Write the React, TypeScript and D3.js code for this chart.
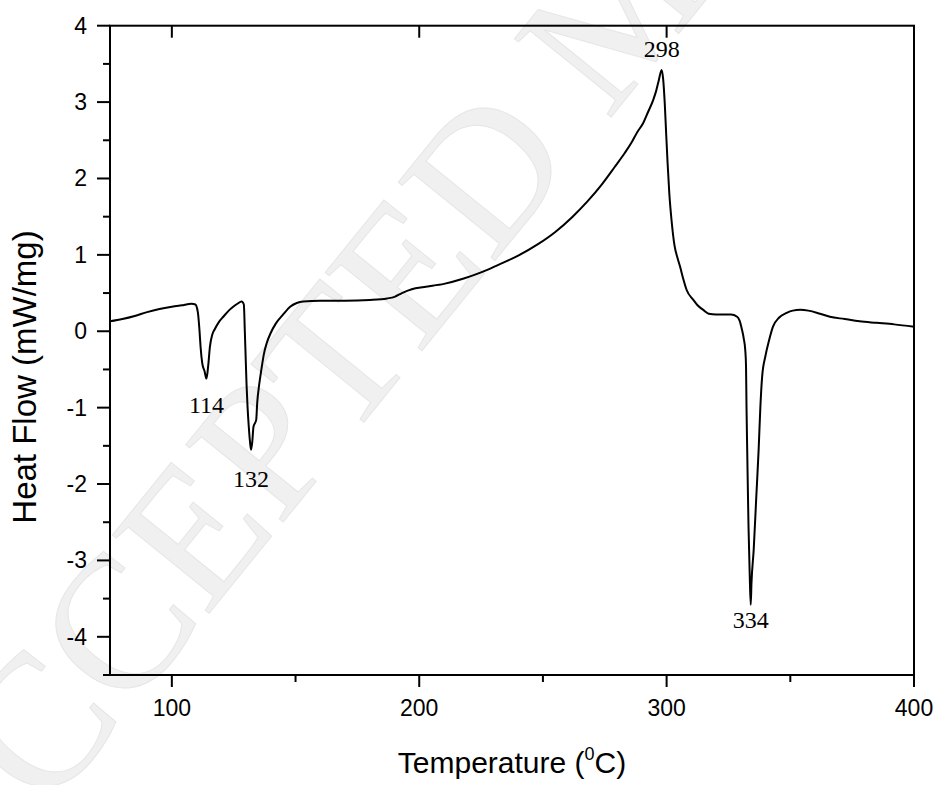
import React from "react";
import * as d3 from "d3";

// DSC trace: temperature (°C) and heat flow (mW/mg)
const temperature = [
  75, 80, 85, 90, 95, 100, 104, 108, 109.5, 110.5, 111.2, 111.6, 112.3, 113.2, 114, 114.7,
  115.4, 116.3, 117.4, 119, 120.8, 123, 124.8, 126.5, 128.2, 129.1, 129.5, 129.8, 130.2,
  130.6, 131.1, 131.6, 132, 132.5, 133, 134.1, 134.5, 135.3, 136.2, 137.2, 138.3, 140, 142,
  145, 147.8, 150.5, 153.1, 160, 170, 180, 187, 190, 193, 197, 202, 210, 218, 225, 232, 240,
  248, 255, 262, 268, 274, 279, 283, 286, 288, 290.6, 292.5, 294.6, 295.8, 296.8, 298, 298.6,
  299.3, 299.8, 300.4, 301.1, 302, 303.2, 304.5, 305.4, 306.6, 308.1, 310.8, 312.5, 314.8,
  317, 320, 326, 328.5, 329.5, 330.4, 331.2, 331.8, 332.1, 332.3, 332.6, 333.1, 333.6, 334,
  334.3, 335.2, 336.2, 337.2, 337.9, 338.6, 339.9, 341.4, 343, 345.5, 348.5, 351, 354, 357.3,
  362, 366, 372, 378, 385, 392, 400,
];
const heatFlow = [
  0.13, 0.16, 0.2, 0.25, 0.29, 0.32, 0.34, 0.36, 0.35, 0.25, 0.0, -0.2, -0.42, -0.52, -0.62,
  -0.45, -0.2, -0.05, 0.03, 0.12, 0.19, 0.27, 0.32, 0.36, 0.39, 0.35, 0.0, -0.3, -0.7, -0.99,
  -1.25, -1.45, -1.55, -1.45, -1.25, -1.16, -0.94, -0.7, -0.5, -0.3, -0.16, -0.02, 0.1, 0.22,
  0.32, 0.37, 0.39, 0.4, 0.4, 0.41, 0.43, 0.45, 0.5, 0.55, 0.58, 0.62, 0.69, 0.77, 0.87, 0.99,
  1.14, 1.3, 1.5, 1.7, 1.93, 2.15, 2.33, 2.48, 2.6, 2.73, 2.87, 3.03, 3.15, 3.28, 3.42, 3.3,
  2.95, 2.6, 2.2, 1.8, 1.45, 1.12, 0.95, 0.85, 0.7, 0.54, 0.41, 0.34, 0.28, 0.23, 0.22, 0.22,
  0.19, 0.14, 0.03, -0.1, -0.25, -0.46, -1.0, -1.6, -2.55, -3.2, -3.58, -3.3, -2.86, -2.2,
  -1.55, -0.99, -0.6, -0.33, -0.12, 0.06, 0.18, 0.24, 0.27, 0.28, 0.27, 0.23, 0.19, 0.16, 0.13,
  0.11, 0.09, 0.06,
];

// Peak temperatures annotated on the trace
const peakTemps = [114, 132, 298, 334];
const peakLabels = ["114", "132", "298", "334"];

const xMajorTicks = [100, 200, 300, 400];
const xMinorTicks = [150, 250, 350];
const yMajorTicks = [-4, -3, -2, -1, 0, 1, 2, 3, 4];
const yMinorTicks = [-4.5, -3.5, -2.5, -1.5, -0.5, 0.5, 1.5, 2.5, 3.5];

const xTitle = "Temperature (";
const xTitleSup = "0";
const xTitleEnd = "C)";
const yTitle = "Heat Flow (mW/mg)";
const watermark = "ACCEPTED MANUSCRIPT";

const W = 939;
const H = 785;
const M = { left: 110, right: 914, top: 25.7, bottom: 675 };

export default function App() {
  if (typeof document !== "undefined") document.body.style.margin = "0";

  const x = d3.scaleLinear().domain([75, 400]).range([M.left, M.right]);
  const y = d3.scaleLinear().domain([-4.5, 4]).range([M.bottom, M.top]);

  const points = temperature.map((t, i) => [t, heatFlow[i]] as [number, number]);
  const line = d3
    .line<[number, number]>()
    .x((d) => x(d[0]))
    .y((d) => y(d[1]))
    .curve(d3.curveMonotoneX);

  const valueAt = (t: number) => heatFlow[temperature.indexOf(t)];

  const sans = "Liberation Sans, Arial, sans-serif";
  const serif = "Liberation Serif, Times New Roman, serif";

  // label placement relative to each peak (above for maxima, below for minima)
  const labelOffsets = [34, 37, -13, 23];

  return (
    <svg
      width={W}
      height={H}
      style={{ display: "block", position: "absolute", left: 0, top: 0, background: "#fff" }}
    >
      <rect width={W} height={H} fill="#fff" />

      <text
        x={-40}
        y={921}
        transform="rotate(-51 -40 921)"
        fontFamily={serif}
        fontSize={190}
        fill="#f0f0f0"
        stroke="#e6e6e6"
        strokeWidth={1}
      >
        {watermark}
      </text>

      <path d={line(points) ?? ""} fill="none" stroke="#000" strokeWidth={2} strokeLinejoin="round" />

      {/* frame */}
      <rect
        x={M.left}
        y={M.top}
        width={M.right - M.left}
        height={M.bottom - M.top}
        fill="none"
        stroke="#000"
        strokeWidth={2}
      />

      {/* bottom axis */}
      {xMajorTicks.map((t) => (
        <g key={`xb${t}`}>
          <line x1={x(t)} x2={x(t)} y1={M.bottom} y2={M.bottom + 12} stroke="#000" strokeWidth={2} />
          <text x={x(t)} y={716} textAnchor="middle" fontFamily={sans} fontSize={23}>
            {t}
          </text>
        </g>
      ))}
      {xMinorTicks.map((t) => (
        <line key={`xm${t}`} x1={x(t)} x2={x(t)} y1={M.bottom} y2={M.bottom + 7} stroke="#000" strokeWidth={2} />
      ))}
      {/* top axis ticks point inward */}
      {xMajorTicks.slice(0, 3).map((t) => (
        <line key={`xt${t}`} x1={x(t)} x2={x(t)} y1={M.top} y2={M.top + 12} stroke="#000" strokeWidth={2} />
      ))}

      {/* left axis */}
      {yMajorTicks.map((v) => (
        <g key={`yl${v}`}>
          <line x1={M.left - 13} x2={M.left} y1={y(v)} y2={y(v)} stroke="#000" strokeWidth={2} />
          <text
            x={87}
            y={y(v)}
            textAnchor="end"
            dominantBaseline="central"
            fontFamily={sans}
            fontSize={23}
          >
            {v}
          </text>
        </g>
      ))}
      {yMinorTicks.map((v) => (
        <line key={`ym${v}`} x1={M.left - 7} x2={M.left} y1={y(v)} y2={y(v)} stroke="#000" strokeWidth={2} />
      ))}

      {/* peak annotations */}
      {peakTemps.map((t, i) => (
        <text
          key={`pk${t}`}
          x={x(t)}
          y={y(valueAt(t)) + labelOffsets[i]}
          textAnchor="middle"
          fontFamily={serif}
          fontSize={24}
        >
          {peakLabels[i]}
        </text>
      ))}

      {/* axis titles */}
      <text x={512} y={773} textAnchor="middle" fontFamily={sans} fontSize={30}>
        {xTitle}
        <tspan fontSize={18} dy={-13}>
          {xTitleSup}
        </tspan>
        <tspan dy={13}>{xTitleEnd}</tspan>
      </text>
      <text
        transform={`translate(36 377) rotate(-90)`}
        textAnchor="middle"
        fontFamily={sans}
        fontSize={33}
      >
        {yTitle}
      </text>
    </svg>
  );
}
